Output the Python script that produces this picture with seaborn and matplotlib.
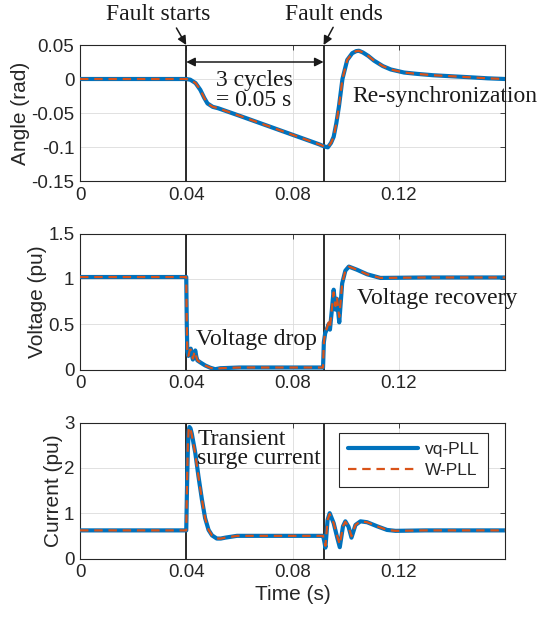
import matplotlib
matplotlib.use('Agg')
import matplotlib.pyplot as plt
import seaborn as sns

# ---------------- data ----------------
t_angle = [0, 0.0400, 0.0415, 0.0435, 0.0453, 0.0468, 0.0480, 0.0500, 0.0520,
           0.0600, 0.0700, 0.0800, 0.0900, 0.0918, 0.0933, 0.0945, 0.0955,
           0.0965, 0.0975, 0.0988, 0.1006, 0.1025, 0.1040, 0.1050, 0.1065,
           0.1085, 0.1107, 0.1140, 0.1170, 0.1220, 0.1270, 0.1330, 0.1400,
           0.1470, 0.1535, 0.1600]
angle_vq = [0, 0, -0.001, -0.006, -0.016, -0.028, -0.036, -0.041, -0.043,
            -0.054, -0.068, -0.082, -0.096, -0.099, -0.1005, -0.094, -0.085,
            -0.065, -0.040, 0.000, 0.028, 0.038, 0.041, 0.0415, 0.039,
            0.034, 0.027, 0.019, 0.014, 0.0095, 0.0075, 0.0055, 0.004,
            0.0025, 0.001, 0.0]
angle_w = [0, 0, -0.001, -0.006, -0.016, -0.028, -0.036, -0.041, -0.043,
           -0.054, -0.068, -0.082, -0.096, -0.099, -0.1003, -0.094, -0.085,
           -0.065, -0.040, 0.000, 0.028, 0.038, 0.041, 0.0415, 0.039,
           0.034, 0.027, 0.019, 0.014, 0.0095, 0.0075, 0.0055, 0.004,
           0.0025, 0.001, 0.0]

t_volt = [0, 0.0400, 0.0402, 0.0404, 0.0408, 0.0413, 0.0417, 0.0421, 0.0425,
          0.0430, 0.0434, 0.0438, 0.0442, 0.0452, 0.0471, 0.0490, 0.0509,
          0.0528, 0.0600, 0.0915, 0.0918, 0.0923, 0.0930, 0.0936, 0.0941,
          0.0947, 0.0955, 0.0962, 0.0967, 0.0976, 0.0987, 0.0999, 0.1012,
          0.1043, 0.1081, 0.1131, 0.1300, 0.1600]
volt_vq = [1.02, 1.02, 0.50, 0.20, 0.15, 0.20, 0.23, 0.16, 0.11,
           0.18, 0.21, 0.14, 0.10, 0.08, 0.045, 0.02, 0.003,
           0.014, 0.022, 0.022, 0.30, 0.40, 0.45, 0.50, 0.44,
           0.62, 0.88, 0.66, 0.78, 0.52, 0.95, 1.09, 1.135,
           1.10, 1.05, 1.01, 1.015, 1.015]
volt_w = [1.02, 1.02, 0.50, 0.20, 0.15, 0.21, 0.22, 0.16, 0.12,
          0.18, 0.20, 0.14, 0.10, 0.08, 0.045, 0.02, 0.004,
          0.014, 0.022, 0.022, 0.30, 0.41, 0.46, 0.52, 0.47,
          0.64, 0.85, 0.70, 0.80, 0.58, 0.95, 1.09, 1.135,
          1.10, 1.05, 1.01, 1.015, 1.015]

t_curr = [0, 0.0400, 0.0403, 0.0406, 0.0409, 0.0412, 0.0416, 0.0421, 0.0434,
          0.0446, 0.0459, 0.0471, 0.0484, 0.0497, 0.0515, 0.0530, 0.0547,
          0.0591, 0.0700, 0.0915, 0.0919, 0.0924, 0.0932, 0.0940, 0.0955,
          0.0968, 0.0978, 0.0990, 0.0999, 0.1011, 0.1022, 0.1037, 0.1056,
          0.1081, 0.1119, 0.1156, 0.1188, 0.1300, 0.1600]
curr_vq = [0.62, 0.62, 1.60, 2.40, 2.80, 2.90, 2.87, 2.75, 2.33,
           1.81, 1.30, 0.89, 0.63, 0.51, 0.44, 0.44, 0.46,
           0.50, 0.50, 0.50, 0.40, 0.24, 0.85, 1.00, 0.78,
           0.47, 0.25, 0.71, 0.82, 0.70, 0.46, 0.74, 0.82,
           0.80, 0.71, 0.63, 0.61, 0.62, 0.62]
curr_w = [0.62, 0.62, 1.70, 2.50, 2.85, 2.90, 2.85, 2.72, 2.30,
          1.80, 1.30, 0.89, 0.63, 0.51, 0.44, 0.44, 0.46,
          0.50, 0.50, 0.50, 0.40, 0.28, 0.85, 0.98, 0.78,
          0.50, 0.31, 0.71, 0.81, 0.70, 0.49, 0.74, 0.82,
          0.80, 0.71, 0.63, 0.61, 0.62, 0.62]

x_ticks = [0, 0.04, 0.08, 0.12]
x_ticklabels = ['0', '0.04', '0.08', '0.12']
angle_ticks = [-0.15, -0.1, -0.05, 0, 0.05]
angle_ticklabels = ['-0.15', '-0.1', '-0.05', '0', '0.05']
volt_ticks = [0, 0.5, 1, 1.5]
volt_ticklabels = ['0', '0.5', '1', '1.5']
curr_ticks = [0, 1, 2, 3]
curr_ticklabels = ['0', '1', '2', '3']
ylabels = ['Angle (rad)', 'Voltage (pu)', 'Current (pu)']
series_names = ['vq-PLL', 'W-PLL']
fault_start = 0.04
fault_end = 0.0917

# ---------------- style ----------------
sns.set_theme(style='white')
plt.rcParams['font.family'] = ['Liberation Sans', 'DejaVu Sans']
plt.rcParams['axes.unicode_minus'] = False
SERIF = ['Liberation Serif', 'DejaVu Serif']
BLUE = '#0072BD'
ORANGE = '#D95319'
DARK = '#262626'

fig = plt.figure(figsize=(5.4, 6.18), dpi=100)
L, W, H = 80 / 540, 425 / 540, 136 / 618
bottoms = [1 - 181 / 618, 1 - 369.5 / 618, 1 - 558.5 / 618]
axes = [fig.add_axes([L, b, W, H]) for b in bottoms]

panels = [
    (t_angle, angle_vq, angle_w, (-0.15, 0.05), angle_ticks, angle_ticklabels),
    (t_volt, volt_vq, volt_w, (0, 1.5), volt_ticks, volt_ticklabels),
    (t_curr, curr_vq, curr_w, (0, 3), curr_ticks, curr_ticklabels),
]

for ax, (t, yv, yw, ylim, yt, ytl), ylab in zip(axes, panels, ylabels):
    ax.axvline(fault_start, color='k', lw=1.3, zorder=1.5)
    ax.axvline(fault_end, color='k', lw=1.3, zorder=1.5)
    sns.lineplot(x=t, y=yv, ax=ax, color=BLUE, linewidth=3.0,
                 estimator=None, label=series_names[0], zorder=3)
    sns.lineplot(x=t, y=yw, ax=ax, color=ORANGE, linewidth=1.6,
                 linestyle=(0, (3.8, 2.6)), estimator=None,
                 label=series_names[1], zorder=4)
    if ax.get_legend() is not None:
        ax.get_legend().remove()
    ax.set_xlim(0, 0.16)
    ax.set_ylim(*ylim)
    ax.set_xticks(x_ticks)
    ax.set_xticklabels(x_ticklabels)
    ax.set_yticks(yt)
    ax.set_yticklabels(ytl)
    ax.grid(True, color='#dcdcdc', lw=0.6)
    ax.set_axisbelow(True)
    for s in ax.spines.values():
        s.set_color(DARK)
        s.set_linewidth(0.8)
        s.set_visible(True)
    ax.tick_params(direction='in', length=3.5, width=0.6, top=True,
                   right=True, labelsize=13.5, labelcolor=DARK, colors=DARK,
                   pad=4)
    ax.set_ylabel(ylab, fontsize=15, color=DARK, labelpad=1)
    ax.set_xlabel('')

axes[2].set_xlabel('Time (s)', fontsize=15, color=DARK, labelpad=3)

# ---------------- annotations ----------------
ax0, ax1, ax2 = axes
arrow_kw = dict(arrowstyle='-|>', color='k', lw=1.1, mutation_scale=13,
                shrinkA=0, shrinkB=0)
ax0.annotate('', xy=(fault_start, 0.05), xytext=(0.0363, 0.075),
             arrowprops=arrow_kw, annotation_clip=False)
ax0.annotate('', xy=(fault_end, 0.05), xytext=(0.0953, 0.076),
             arrowprops=arrow_kw, annotation_clip=False)
ax0.annotate('', xy=(fault_start, 0.025), xytext=(fault_end, 0.025),
             arrowprops=dict(arrowstyle='<|-|>', color='k', lw=1.1,
                             mutation_scale=13, shrinkA=0, shrinkB=0))
ax0.text(0.0293, 0.0867, 'Fault starts', ha='center', va='baseline',
         fontsize=17, family=SERIF, color='k')
ax0.text(0.0955, 0.0867, 'Fault ends', ha='center', va='baseline',
         fontsize=17, family=SERIF, color='k')
# baseline refers to the last line of a multi-line text
ax0.text(0.0655, -0.0395, '3 cycles\n= 0.05 s', ha='center', va='baseline',
         multialignment='center', linespacing=0.92,
         fontsize=17, family=SERIF, color='k')
ax0.text(0.1024, -0.0334, 'Re-synchronization', ha='left', va='baseline',
         fontsize=17, family=SERIF, color='k')

ax1.text(0.0437, 0.269, 'Voltage drop', ha='left', va='baseline',
         fontsize=17, family=SERIF, color='k')
ax1.text(0.1043, 0.72, 'Voltage recovery', ha='left', va='baseline',
         fontsize=17, family=SERIF, color='k')

ax2.text(0.0441, 2.08, 'Transient\nsurge current', ha='left', va='baseline',
         multialignment='left', linespacing=0.86,
         fontsize=17, family=SERIF, color='k')

handles = [ln for ln in ax2.get_lines() if ln.get_label() in series_names]
leg = ax2.legend(handles=handles, labels=series_names, loc='upper right',
                 bbox_to_anchor=(0.96, 0.924), borderaxespad=0,
                 fontsize=12.5, handlelength=4.0, handletextpad=0.4,
                 labelspacing=0.35, borderpad=0.5, fancybox=False,
                 framealpha=1, edgecolor=DARK)
leg.get_frame().set_linewidth(0.8)
for txt in leg.get_texts():
    txt.set_color(DARK)

fig.savefig('out.png', dpi=100)
